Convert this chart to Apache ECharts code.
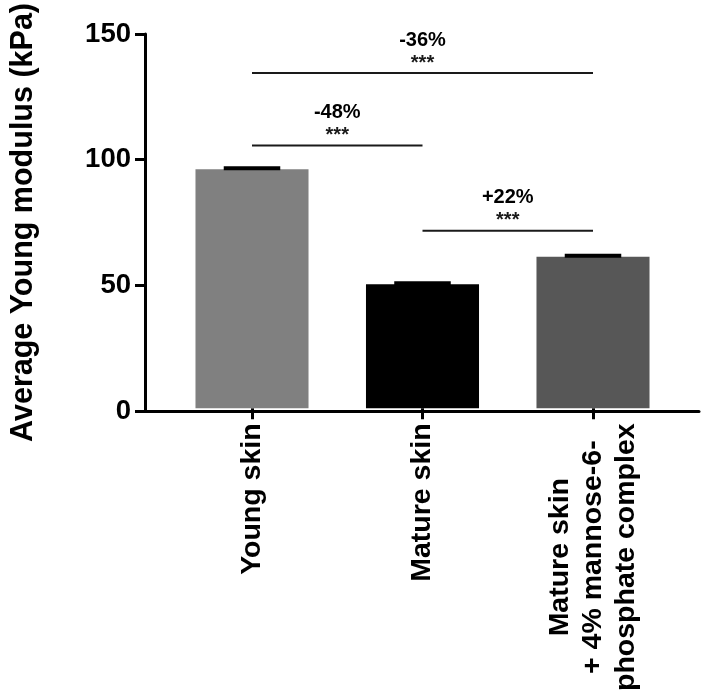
<!DOCTYPE html>
<html>
<head>
<meta charset="utf-8">
<script src="https://cdn.jsdelivr.net/npm/echarts@6/dist/echarts.min.js"></script>
<style>
  html, body { margin: 0; padding: 0; background: #fff; }
  #chart { width: 709px; height: 694px; }
</style>
</head>
<body>
<div id="chart"></div>
<script>
const categories = ["Young skin", "Mature skin", "Mature skin\n+ 4% mannose-6-\nphosphate complex"];
const means = [95.6, 49.6, 60.6];
const errors = [0.4, 0.4, 0.4];
const barColors = ["#808080", "#000000", "#575757"];

const yMin = 0;
const yMax = 150;
const yStep = 50;

// significance brackets: from category, to category, height, change, stars
const compFrom = [0, 0, 1];
const compTo = [2, 1, 2];
const compHeight = [134, 105, 71];
const compChange = ["-36%", "-48%", "+22%"];
const compStars = ["***", "***", "***"];

const FONT = "'Liberation Sans', Arial, Helvetica, sans-serif";
const BAR_RATIO = 0.663;

const chart = echarts.init(document.getElementById("chart"), null, { renderer: "canvas" });

const renderErrorBar = (params, api) => {
  const idx = api.value(0);
  const top = api.coord([idx, api.value(1) + api.value(2)]);
  const base = api.coord([idx, api.value(1)]);
  const half = api.size([1, 0])[0] * BAR_RATIO / 4;
  return {
    type: "group",
    children: [
      {
        type: "line",
        shape: { x1: top[0], y1: base[1], x2: top[0], y2: top[1] },
        style: { stroke: "#000", lineWidth: 2 },
      },
      {
        type: "line",
        shape: { x1: top[0] - half, y1: top[1], x2: top[0] + half, y2: top[1] },
        style: { stroke: "#000", lineWidth: 4 },
      },
    ],
  };
};

const renderBracket = (params, api) => {
  const i = params.dataIndex;
  const p1 = api.coord([api.value(0), api.value(2)]);
  const p2 = api.coord([api.value(1), api.value(2)]);
  const midX = (p1[0] + p2[0]) / 2;
  return {
    type: "group",
    children: [
      {
        type: "line",
        shape: { x1: p1[0], y1: p1[1], x2: p2[0], y2: p2[1] },
        style: { stroke: "#1a1a1a", lineWidth: 2 },
      },
      {
        type: "text",
        x: midX,
        y: p1[1] - 10,
        style: {
          text: compStars[i],
          align: "center",
          verticalAlign: "middle",
          fontSize: 20,
          fontWeight: "bold",
          fontFamily: FONT,
          fill: "#1a1a1a",
        },
      },
      {
        type: "text",
        x: midX,
        y: p1[1] - 33,
        style: {
          text: compChange[i],
          align: "center",
          verticalAlign: "middle",
          fontSize: 20,
          fontWeight: "bold",
          fontFamily: FONT,
          fill: "#000",
        },
      },
    ],
  };
};

const option = {
  backgroundColor: "#fff",
  animation: false,
  grid: [
    { left: 136, right: 10, top: 33, bottom: 283 },
    { left: 166.75, right: 30.75, top: 33, bottom: 283 },
  ],
  xAxis: [
    {
      gridIndex: 0,
      type: "value",
      min: 0,
      max: 1,
      axisLine: { show: true, lineStyle: { color: "#000", width: 3 } },
      axisTick: { show: false },
      axisLabel: { show: false },
      splitLine: { show: false },
    },
    {
      gridIndex: 1,
      type: "category",
      data: categories,
      axisLine: { show: false },
      axisTick: {
        show: true,
        alignWithLabel: true,
        length: 11,
        lineStyle: { color: "#000", width: 3 },
      },
      axisLabel: {
        rotate: 90,
        margin: 15,
        interval: 0,
        formatter: (value) => value.split("\n").map((line) => `{c|${line}}`).join("\n"),
        rich: {
          c: {
            align: "center",
            fontSize: 28.5,
            fontWeight: "bold",
            fontFamily: FONT,
            color: "#000",
            lineHeight: 33,
          },
        },
      },
      splitLine: { show: false },
    },
  ],
  yAxis: [
    {
      gridIndex: 0,
      type: "value",
      min: yMin,
      max: yMax,
      interval: yStep,
      name: "Average Young modulus (kPa)",
      nameLocation: "middle",
      nameGap: 106,
      nameTextStyle: {
        fontSize: 30.5,
        fontWeight: "bold",
        fontFamily: FONT,
        color: "#000",
      },
      axisLine: { show: true, lineStyle: { color: "#000", width: 3 } },
      axisTick: { show: true, length: 10, lineStyle: { color: "#000", width: 3 } },
      axisLabel: {
        margin: 14,
        fontSize: 27.5,
        fontWeight: "bold",
        fontFamily: FONT,
        color: "#000",
      },
      splitLine: { show: false },
    },
    {
      gridIndex: 1,
      type: "value",
      min: yMin,
      max: yMax,
      show: false,
      splitLine: { show: false },
    },
  ],
  series: [
    {
      type: "bar",
      xAxisIndex: 1,
      yAxisIndex: 1,
      barWidth: `${BAR_RATIO * 100}%`,
      data: means.map((v, i) => ({ value: v, itemStyle: { color: barColors[i] } })),
    },
    {
      type: "custom",
      xAxisIndex: 1,
      yAxisIndex: 1,
      renderItem: renderErrorBar,
      encode: { x: 0, y: 1 },
      data: means.map((v, i) => [i, v, errors[i]]),
      z: 3,
    },
    {
      type: "custom",
      xAxisIndex: 1,
      yAxisIndex: 1,
      renderItem: renderBracket,
      encode: { x: [0, 1], y: 2 },
      data: compFrom.map((f, i) => [f, compTo[i], compHeight[i]]),
      z: 4,
    },
  ],
};

chart.setOption(option);
</script>
</body>
</html>
